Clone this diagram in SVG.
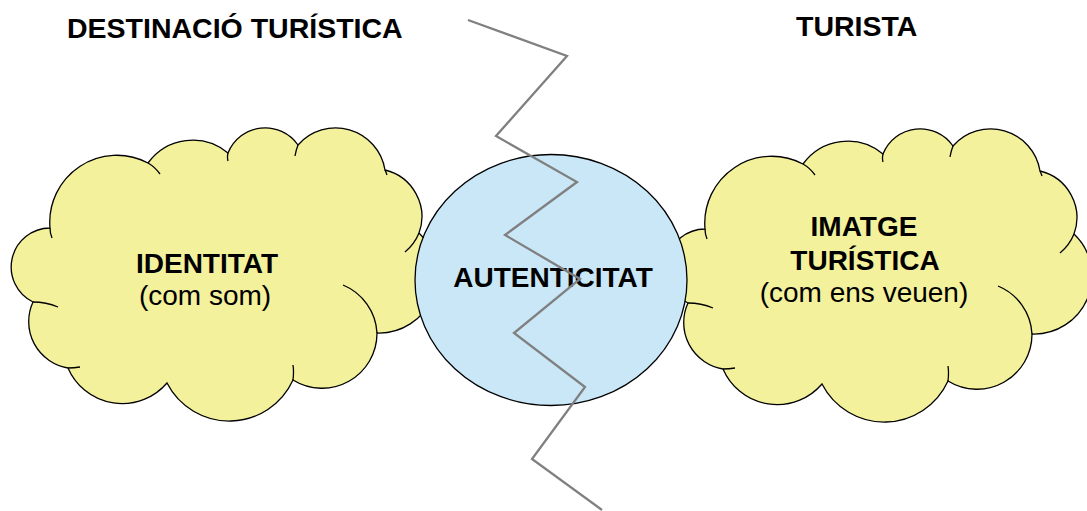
<svg xmlns="http://www.w3.org/2000/svg" xmlns:xlink="http://www.w3.org/1999/xlink" width="1087" height="511" viewBox="0 0 1087 511">
  <style>
    .cloud { fill: #F4F19C; stroke: #000; stroke-width: 1.3; }
    .notch { fill: none; stroke: #000; stroke-width: 1.3; }
    .title { font-family: "Liberation Sans", Arial, sans-serif; font-weight: bold; font-size: 28.5px; fill: #000; }
    .bold { font-family: "Liberation Sans", Arial, sans-serif; font-weight: bold; font-size: 28px; fill: #000; text-anchor: middle; }
    .plain { font-family: "Liberation Sans", Arial, sans-serif; font-size: 28px; fill: #000; text-anchor: middle; }
    .split { fill: none; stroke: #808080; stroke-width: 2.3; stroke-linejoin: miter; }
  </style>
  <defs>
    <!-- cloud outline built from circular lobes -->
    <g id="cloudShape">
      <path class="cloud" d="M50,228 A67,67 0 0 1 148,163 A55,55 0 0 1 228,153 A40,40 0 0 1 298,145 A50,50 0 0 1 385,170 A48,48 0 0 1 419,233 A58,58 0 0 1 377,333 A55,55 0 0 1 293,380 A70,70 0 0 1 167,383 A59,59 0 0 1 68,368 A47,47 0 0 1 33,302 A39,39 0 0 1 50,228 Z"/>
      <path class="notch" d="M50,228 Q50,233 52,238 M148,163 Q155,167 160,174 M228,153 Q227,157 228,161 M298,145 Q296,150 295,156 M385,170 Q386,172 387,175 M419,233 A48,48 0 0 1 405,252 M377,333 A55,55 0 0 0 343,285 M293,380 Q294,372 293,365 M68,368 Q74,368 80,367 M33,302 Q46,302 58,307"/>
    </g>
  </defs>

  <!-- column headings -->
  <text class="title" x="67" y="38">DESTINACIÓ TURÍSTICA</text>
  <text class="title" x="796" y="36">TURISTA</text>

  <g id="identitat">
    <use xlink:href="#cloudShape"/>
    <text class="bold" x="207" y="273">IDENTITAT</text>
    <text class="plain" x="205" y="305">(com som)</text>
  </g>

  <g id="imatge">
    <use xlink:href="#cloudShape" transform="translate(655,1)"/>
    <text class="bold" x="864" y="236">IMATGE</text>
    <text class="bold" x="865" y="270">TURÍSTICA</text>
    <text class="plain" x="864" y="302">(com ens veuen)</text>
  </g>

  <g id="autenticitat">
    <ellipse cx="551" cy="280" rx="136" ry="125.5" fill="#C9E7F7" stroke="#000" stroke-width="1.3"/>
    <text class="bold" x="553" y="287">AUTENTICITAT</text>
  </g>

  <g id="connectors">
    <polyline class="split" points="468,20 567,56 496,136 577,182 505,235 580,279 514,333 585,387 532,459 602,510"/>
  </g>
</svg>
